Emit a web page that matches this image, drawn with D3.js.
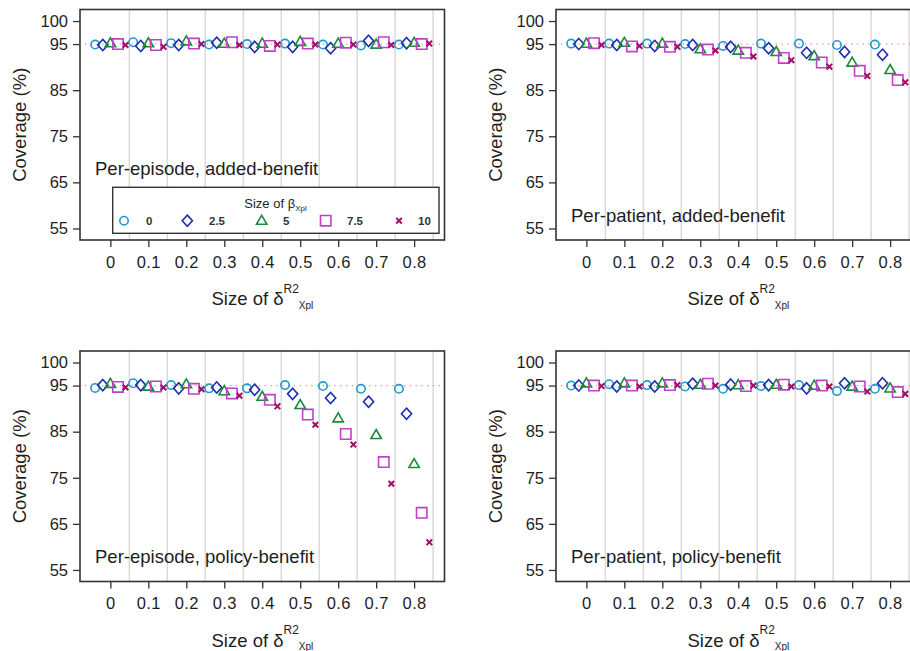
<!DOCTYPE html>
<html>
<head>
<meta charset="utf-8">
<script src="https://cdn.jsdelivr.net/npm/d3@7"></script>
<style>
  body { margin: 0; background: #fff; }
  svg { display: block; font-family: "Liberation Sans", Arial, sans-serif; }
</style>
</head>
<body>
<svg id="chart" width="910" height="651"></svg>
<script>
// Simulation coverage by size of delta (x) and beta (series)
const deltas = [0, 0.1, 0.2, 0.3, 0.4, 0.5, 0.6, 0.7, 0.8];
const betaLevels = ["0", "2.5", "5", "7.5", "10"];
const yTicks = [55, 65, 75, 85, 95, 100];
const xTickLabels = ["0", "0.1", "0.2", "0.3", "0.4", "0.5", "0.6", "0.7", "0.8"];
const nominal = 95;

// one row per beta level, one value per delta
const perEpisodeAdded = [
  [94.9, 95.4, 95.2, 94.9, 95.0, 95.1, 94.9, 94.7, 94.9],
  [94.8, 94.6, 94.8, 95.3, 94.4, 94.4, 94.1, 95.7, 95.2],
  [95.2, 95.2, 95.6, 95.1, 95.1, 95.5, 95.1, 94.9, 95.3],
  [95.0, 94.8, 95.1, 95.4, 94.6, 95.1, 95.3, 95.4, 95.0],
  [94.8, 94.4, 95.0, 94.8, 94.9, 94.9, 94.9, 94.8, 95.1]
];
const perPatientAdded = [
  [95.1, 95.1, 95.1, 95.0, 94.6, 95.1, 95.1, 94.8, 94.9],
  [95.0, 94.8, 94.6, 94.8, 94.4, 94.1, 93.1, 93.3, 92.7],
  [95.1, 95.3, 95.1, 93.9, 93.6, 93.3, 92.4, 91.0, 89.4],
  [95.2, 94.5, 94.4, 93.8, 93.1, 92.0, 91.0, 89.2, 87.2],
  [94.8, 94.6, 94.4, 93.6, 92.3, 91.5, 90.1, 88.1, 86.7]
];
const perEpisodePolicy = [
  [94.5, 95.5, 95.1, 94.4, 94.4, 95.1, 94.9, 94.3, 94.3],
  [95.1, 95.1, 94.4, 94.6, 94.1, 93.2, 92.3, 91.5, 88.9],
  [95.4, 94.8, 95.3, 93.8, 92.6, 90.8, 87.9, 84.3, 78.0],
  [94.7, 94.8, 94.3, 93.3, 91.9, 88.7, 84.5, 78.4, 67.4],
  [94.6, 94.6, 94.2, 92.8, 90.5, 86.5, 82.2, 73.7, 61.0]
];
const perPatientPolicy = [
  [95.0, 95.3, 95.1, 94.8, 94.3, 94.9, 95.1, 93.8, 94.3],
  [95.0, 94.8, 94.8, 95.4, 95.2, 95.1, 94.4, 95.5, 95.5],
  [95.5, 95.5, 95.5, 95.2, 95.1, 95.2, 95.0, 94.8, 94.4],
  [95.0, 95.0, 95.1, 95.4, 94.9, 95.2, 95.0, 94.8, 93.6],
  [94.9, 94.8, 95.1, 95.0, 95.0, 94.8, 94.8, 93.7, 93.2]
];

const panelData = [perEpisodeAdded, perPatientAdded, perEpisodePolicy, perPatientPolicy];
const panelTitles = [
  "Per-episode, added-benefit",
  "Per-patient, added-benefit",
  "Per-episode, policy-benefit",
  "Per-patient, policy-benefit"
];

const colors = ["#1f9bd1", "#1d2fb0", "#1b8a3b", "#c23fca", "#9e1060"];

// marker outlines, centred on 0,0
const shapes = [
  { kind: "circle" },
  { kind: "path", d: "M0,-5.6L5.1,0L0,5.6L-5.1,0Z" },
  { kind: "path", d: "M0,-5.4L5.2,3.6L-5.2,3.6Z" },
  { kind: "path", d: "M-5.2,-5.2H5.2V5.2H-5.2Z" },
  { kind: "cross", d: "M-2.8,-2.8L2.8,2.8M-2.8,2.8L2.8,-2.8" }
];

function drawMarker(g, k) {
  const s = shapes[k];
  if (s.kind === "circle") {
    g.append("circle").attr("r", 4.2)
      .attr("fill", "none").attr("stroke", colors[k]).attr("stroke-width", 1.6);
  } else if (s.kind === "cross") {
    g.append("path").attr("d", s.d)
      .attr("fill", "none").attr("stroke", colors[k]).attr("stroke-width", 2);
  } else {
    g.append("path").attr("d", s.d)
      .attr("fill", "none").attr("stroke", colors[k]).attr("stroke-width", 1.6)
      .attr("stroke-linejoin", "miter");
  }
}

const svg = d3.select("#chart");
const plotW = { left: 80, right: 444.5, top: 9.5, bottom: 240 };
const offsets = [[0, 0], [476, 0], [0, 341.5], [476, 341.5]];
const textColor = "#1e1e1e";
const seriesOffset = 0.02;

const x = d3.scaleLinear().domain([-0.08, 0.88]).range([plotW.left, plotW.right]);
const y = d3.scaleLinear().domain([52.5, 102.5]).range([plotW.bottom, plotW.top]);

panelData.forEach((rows, p) => {
  const g = svg.append("g").attr("transform", `translate(${offsets[p][0]},${offsets[p][1]})`);

  // vertical separators between delta groups
  const gridVals = deltas.map(d => d + 0.05);
  g.append("g").selectAll("line").data(gridVals).join("line")
    .attr("x1", d => x(d)).attr("x2", d => x(d))
    .attr("y1", plotW.top).attr("y2", plotW.bottom)
    .attr("stroke", "#dadada").attr("stroke-width", 1.5);

  // nominal coverage reference
  g.append("line")
    .attr("x1", plotW.left + 5).attr("x2", plotW.right - 2)
    .attr("y1", y(nominal)).attr("y2", y(nominal))
    .attr("stroke", "#f28a8a").attr("stroke-width", 1.2)
    .attr("stroke-dasharray", "1.3,4.5");

  // markers
  rows.forEach((vals, k) => {
    const sg = g.append("g");
    vals.forEach((v, i) => {
      const m = sg.append("g")
        .attr("transform", `translate(${x(deltas[i] + (k - 2) * seriesOffset)},${y(v)})`);
      drawMarker(m, k);
    });
  });

  // frame
  g.append("rect")
    .attr("x", plotW.left).attr("y", plotW.top)
    .attr("width", plotW.right - plotW.left).attr("height", plotW.bottom - plotW.top)
    .attr("fill", "none").attr("stroke", "#333").attr("stroke-width", 1.6);

  // y axis
  const yAxis = d3.axisLeft(y).tickValues(yTicks).tickSize(7).tickPadding(5).tickFormat(d3.format("d"));
  const ya = g.append("g").attr("transform", `translate(${plotW.left},0)`).call(yAxis);
  ya.select(".domain").remove();
  ya.selectAll(".tick line").attr("stroke", "#333").attr("stroke-width", 1.3);
  ya.selectAll(".tick text").attr("font-size", 16.5).attr("fill", textColor)
    .attr("font-family", "Liberation Sans, Arial, sans-serif");

  // x axis
  const xAxis = d3.axisBottom(x).tickValues(deltas).tickSize(7).tickPadding(9)
    .tickFormat((d, i) => xTickLabels[i]);
  const xa = g.append("g").attr("transform", `translate(0,${plotW.bottom})`).call(xAxis);
  xa.select(".domain").remove();
  xa.selectAll(".tick line").attr("stroke", "#333").attr("stroke-width", 1.3);
  xa.selectAll(".tick text").attr("font-size", 16.5).attr("fill", textColor)
    .attr("font-family", "Liberation Sans, Arial, sans-serif")
    .attr("letter-spacing", "0.4px");

  // y axis title
  g.append("text")
    .attr("transform", `translate(26,${(plotW.top + plotW.bottom) / 2}) rotate(-90)`)
    .attr("text-anchor", "middle").attr("font-size", 18.5).attr("fill", textColor)
    .text("Coverage (%)");

  // x axis title with super/subscript
  const xt = g.append("text")
    .attr("x", plotW.left + 131.5).attr("y", 305)
    .attr("font-size", 18.5).attr("fill", textColor);
  xt.append("tspan").text("Size of δ");
  xt.append("tspan").attr("font-size", 12).attr("dy", -12.5).text("R2");
  xt.append("tspan").attr("font-size", 10).attr("dy", 16).text("Xpl");

  // panel title
  g.append("text")
    .attr("x", plotW.left + 15).attr("y", p === 0 ? 175 : 221.5)
    .attr("font-size", 18.5).attr("fill", textColor)
    .text(panelTitles[p]);

  // legend only in the first panel
  if (p === 0) {
    const lg = g.append("g");
    lg.append("rect")
      .attr("x", 112.7).attr("y", 187.3).attr("width", 326.3).attr("height", 46)
      .attr("fill", "#fff").attr("stroke", "#333").attr("stroke-width", 1.4);
    const lt = lg.append("text")
      .attr("x", 275.5).attr("y", 208.3).attr("text-anchor", "middle")
      .attr("font-size", 13).attr("fill", textColor);
    lt.append("tspan").text("Size of β");
    lt.append("tspan").attr("font-size", 8).attr("dy", 2.5).text("Xpl");

    const legendX = d3.scalePoint().domain(betaLevels).range([124, 399]);
    const markerX = [124, 187.3, 261.7, 325.7, 399];
    const labelX = [146, 209, 283, 347, 418];
    betaLevels.forEach((b, k) => {
      const m = lg.append("g").attr("transform", `translate(${markerX[k]},220.7)`);
      drawMarker(m, k);
      lg.append("text")
        .attr("x", labelX[k]).attr("y", 225)
        .attr("font-size", 11.5).attr("font-weight", "bold").attr("fill", "#333")
        .text(b);
    });
  }
});
</script>
</body>
</html>
